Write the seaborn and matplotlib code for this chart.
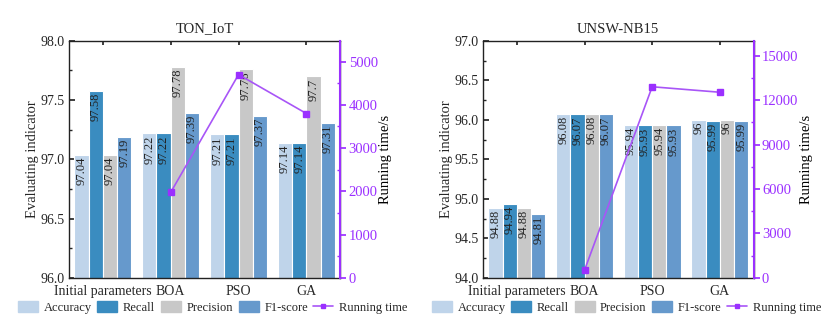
import numpy as np
import pandas as pd
import matplotlib
matplotlib.use("Agg")
import matplotlib.pyplot as plt
from matplotlib.ticker import MultipleLocator
import seaborn as sns

# =========================
# Data
# =========================
methods = ["Initial parameters", "BOA", "PSO", "GA"]
metrics = ["Accuracy", "Recall", "Precision", "F1-score"]

ton_accuracy = [97.04, 97.22, 97.21, 97.14]
ton_recall = [97.58, 97.22, 97.21, 97.14]
ton_precision = [97.04, 97.78, 97.76, 97.70]
ton_f1 = [97.19, 97.39, 97.37, 97.31]
ton_runtime = [1975, 4700, 3800]  # BOA, PSO, GA

unsw_accuracy = [94.88, 96.08, 95.94, 96.00]
unsw_recall = [94.94, 96.07, 95.93, 95.99]
unsw_precision = [94.88, 96.08, 95.94, 96.00]
unsw_f1 = [94.81, 96.07, 95.93, 95.99]
unsw_runtime = [520, 12900, 12530]  # BOA, PSO, GA

runtime_methods = ["BOA", "PSO", "GA"]

# =========================
# Style
# =========================
sns.set_theme(style="ticks")
plt.rcParams["font.family"] = ["Liberation Serif", "DejaVu Serif"]

bar_colors = ["#BFD4EA", "#3A8CC0", "#C8C8C8", "#6699CC"]
purple = "#9B30FF"
line_color = "#A855F7"


def label_text(v):
    return f"{v:.2f}".rstrip("0").rstrip(".")


def draw_panel(ax, title, values, runtime, ylim, rlim, rmajor, rminor):
    df = pd.DataFrame(
        {
            "method": np.repeat(methods, len(metrics)),
            "metric": metrics * len(methods),
            "value": np.array(values).T.ravel(),
        }
    )
    sns.barplot(
        data=df, x="method", y="value", hue="metric", order=methods,
        hue_order=metrics, palette=bar_colors, width=0.84, ax=ax,
        edgecolor="white", linewidth=0.8, saturation=1, legend=False,
    )
    ax.set_ylim(*ylim)
    ax.set_xlim(-0.5, 3.5)
    ax.yaxis.set_major_locator(MultipleLocator(0.5))
    ax.yaxis.set_minor_locator(MultipleLocator(0.25))
    ax.yaxis.set_major_formatter(plt.FormatStrFormatter("%.1f"))
    ax.tick_params(axis="y", which="both", direction="in", labelsize=10, pad=3)
    ax.tick_params(axis="y", which="major", length=4)
    ax.tick_params(axis="y", which="minor", length=2)
    ax.tick_params(axis="x", direction="in", top=True, length=3, labelsize=10, pad=5)
    ax.set_xlabel("")
    ax.set_ylabel("Evaluating indicator", fontsize=10.5, labelpad=1)
    ax.set_title(title, fontsize=10.5, pad=6)
    for sp in ax.spines.values():
        sp.set_linewidth(1.0)
        sp.set_color("#222222")

    # value labels inside the top of each bar
    for container in ax.containers:
        for patch in container:
            h = patch.get_height()
            x = patch.get_x() + patch.get_width() / 2
            ax.text(x, h - (ylim[1] - ylim[0]) * 0.008, label_text(h),
                    rotation=90, ha="center", va="top", fontsize=9,
                    color="#222222")

    ax2 = ax.twinx()
    rx = [methods.index(m) for m in runtime_methods]
    ax2.plot(rx, runtime, color=line_color, lw=1.2, marker="s", ms=4,
             mfc=purple, mec=purple)
    ax2.set_ylim(*rlim)
    ax2.yaxis.set_major_locator(MultipleLocator(rmajor))
    ax2.yaxis.set_minor_locator(MultipleLocator(rminor))
    ax2.tick_params(axis="y", which="major", direction="out", length=4,
                    colors=purple, labelsize=10.5, pad=2)
    ax2.tick_params(axis="y", which="minor", direction="in", length=2,
                    colors=purple)
    ax2.spines["right"].set_color(purple)
    ax2.spines["right"].set_linewidth(1.5)
    for s in ["top", "left", "bottom"]:
        ax2.spines[s].set_visible(False)
    ax2.set_ylabel("Running time/s", fontsize=10.5, color="black", labelpad=1)
    ax2.set_xlim(-0.5, 3.5)

    handles = [plt.Rectangle((0, 0), 1, 1, color=c) for c in bar_colors]
    handles.append(plt.Line2D([], [], color=line_color, lw=1.2, marker="s",
                              ms=3.5, mfc=purple, mec=purple))
    ax.legend(handles, metrics + ["Running time"], loc="center",
              bbox_to_anchor=(0.53, -0.125), ncol=5, frameon=False,
              fontsize=9, handlelength=1.6, handleheight=0.9,
              handletextpad=0.45, columnspacing=0.45, borderaxespad=0)


fig = plt.figure(figsize=(8.3, 3.32), dpi=100)
ax_l = fig.add_axes([0.083, 0.163, 0.327, 0.714])
ax_r = fig.add_axes([0.582, 0.163, 0.326, 0.714])

draw_panel(ax_l, "TON_IoT",
           [ton_accuracy, ton_recall, ton_precision, ton_f1],
           ton_runtime, (96.0, 98.0), (0, 5480), 1000, 500)
draw_panel(ax_r, "UNSW-NB15",
           [unsw_accuracy, unsw_recall, unsw_precision, unsw_f1],
           unsw_runtime, (94.0, 97.0), (0, 16000), 3000, 1500)

fig.savefig("out.png", dpi=100, facecolor="white")
